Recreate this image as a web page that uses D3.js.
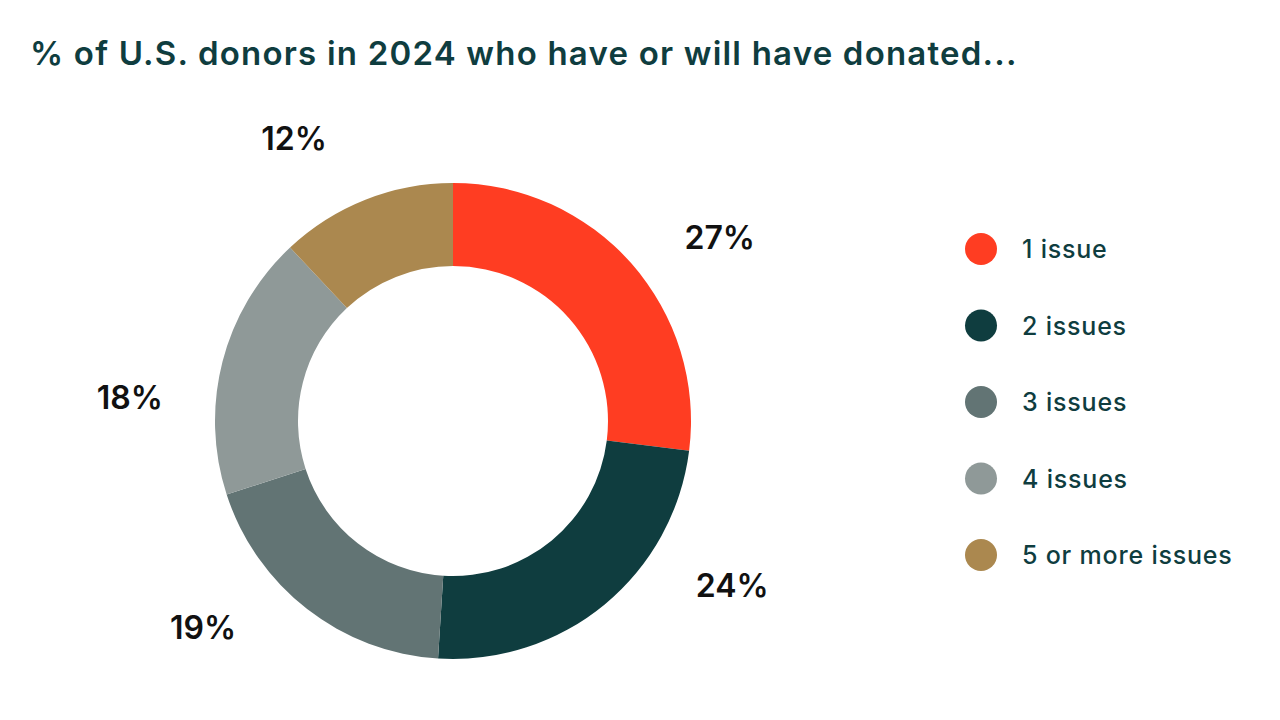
<!DOCTYPE html>
<html><head><meta charset="utf-8">
<script src="https://cdn.jsdelivr.net/npm/d3@7"></script>
<style>body{margin:0;background:#fff}</style>
</head><body><div id="app"></div>
<script>
const categories = ['1 issue', '2 issues', '3 issues', '4 issues', '5 or more issues']
const values = [27, 24, 19, 18, 12]
const colors = ['#ff3d22', '#0f3d3f', '#627474', '#8f9998', '#ab884f']
// label placement angles (degrees clockwise from top), as in the reference layout
const labelAngles = [55.4, 120.5, 230.5, 274.2, 330.6]
const labelRadius = 324

const svg = d3.select('#app').append('svg').attr('width', 1280).attr('height', 720)
  .style('font-family', 'Inter, "Noto Sans", sans-serif')

svg.append('text').attr('x', 30).attr('y', 65)
  .attr('font-size', 33).attr('font-weight', 600).attr('fill', '#0f3d3f')
  .attr('letter-spacing', 1.2)
  .text('% of U.S. donors in 2024 who have or will have donated...')

const data = categories.map((c, i) => ({ c, v: values[i], col: colors[i], a: labelAngles[i] }))
const pie = d3.pie().sort(null).value((d) => d.v)
const arcs = pie(data)
const arc = d3.arc().innerRadius(155).outerRadius(238)

const g = svg.append('g').attr('transform', 'translate(453,421)')
g.selectAll('path').data(arcs).join('path').attr('d', arc).attr('fill', (d) => d.data.col)
g.selectAll('text').data(arcs).join('text')
  .attr('x', (d) => labelRadius * Math.sin(d.data.a * Math.PI / 180))
  .attr('y', (d) => -labelRadius * Math.cos(d.data.a * Math.PI / 180))
  .attr('text-anchor', 'middle').attr('dominant-baseline', 'central')
  .attr('font-size', 32).attr('font-weight', 600).attr('fill', '#111')
  .text((d) => d.data.v + '%')

const y = d3.scalePoint().domain(categories).range([249, 555])
const lg = svg.append('g').selectAll('g').data(data).join('g')
  .attr('transform', (d) => `translate(981,${y(d.c)})`)
lg.append('circle').attr('r', 16).attr('fill', (d) => d.col)
lg.append('text').attr('x', 41).attr('dominant-baseline', 'central')
  .attr('font-size', 25).attr('font-weight', 500).attr('fill', '#0f3d3f')
  .attr('letter-spacing', 0.8).text((d) => d.c)
</script></body></html>
